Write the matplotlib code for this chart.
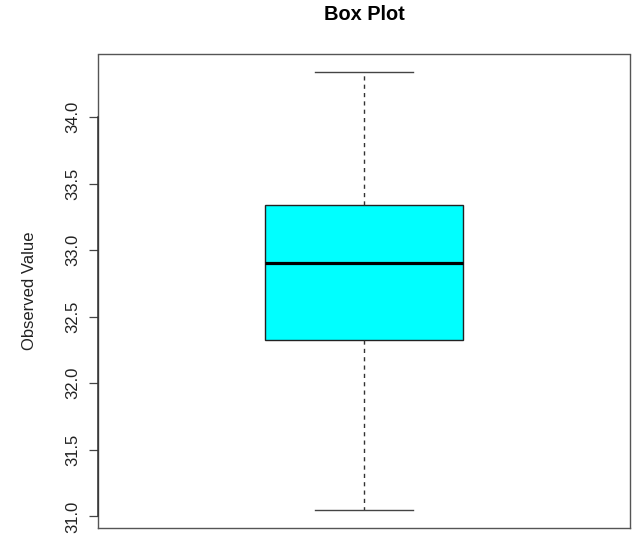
import matplotlib
matplotlib.use("Agg")
import matplotlib.pyplot as plt
import matplotlib.transforms as mtransforms

plt.rcParams['font.family'] = ['Liberation Sans', 'DejaVu Sans']

# Five-number summary of the observed values
whisker_low = 31.045
q1 = 32.327
median = 32.905
q3 = 33.34
whisker_high = 34.3375
ytick_values = [31.0, 31.5, 32.0, 32.5, 33.0, 33.5, 34.0]
ytick_labels = ["31.0", "31.5", "32.0", "32.5", "33.0", "33.5", "34.0"]

fig = plt.figure(figsize=(6.35, 5.36), dpi=100)
ax = fig.add_axes([97.7 / 635, 8 / 536, 532.6 / 635, 473.5 / 536])

stats = [dict(whislo=whisker_low, q1=q1, med=median, q3=q3, whishi=whisker_high, fliers=[])]
ax.bxp(stats, positions=[1], widths=[0.4], capwidths=[0.2], patch_artist=True,
       showfliers=False,
       boxprops=dict(facecolor='#00FFFF', edgecolor='#222222', linewidth=1.0),
       medianprops=dict(color='black', linewidth=2.3, solid_capstyle='butt'),
       whiskerprops=dict(color='#333333', linewidth=1.0, linestyle=(0, (3.0, 3.0))),
       capprops=dict(color='#444444', linewidth=1.0))

# R-style 4% padding around the data range
rng = whisker_high - whisker_low
ax.set_ylim(whisker_low - 0.04 * rng, whisker_high + 0.04 * rng)
ax.set_xlim(0.46, 1.54)

ax.set_xticks([])
ax.set_yticks(ytick_values)
ax.set_yticklabels(ytick_labels, rotation=90, va='center', fontsize=12, color='#222222')
ax.tick_params(axis='y', length=6.5, width=0.9, color='#444444', pad=6)
for s in ax.spines.values():
    s.set_color('#555555')
    s.set_linewidth(1.0)

# axis line spanning the tick range, drawn over the frame
trans = mtransforms.blended_transform_factory(ax.transAxes, ax.transData)
ax.plot([0, 0], [ytick_values[0], ytick_values[-1]], transform=trans, color='#333333',
        linewidth=1.1, clip_on=False, zorder=5)

fig.text(30 / 635, 1 - 291 / 536, "Observed Value", rotation=90, ha='center', va='center',
         fontsize=12, color='#222222')
fig.text(364 / 635, 1 - 15 / 536, "Box Plot", ha='center', va='center',
         fontsize=14.4, fontweight='bold', color='black')

fig.savefig("out.png", dpi=100)
